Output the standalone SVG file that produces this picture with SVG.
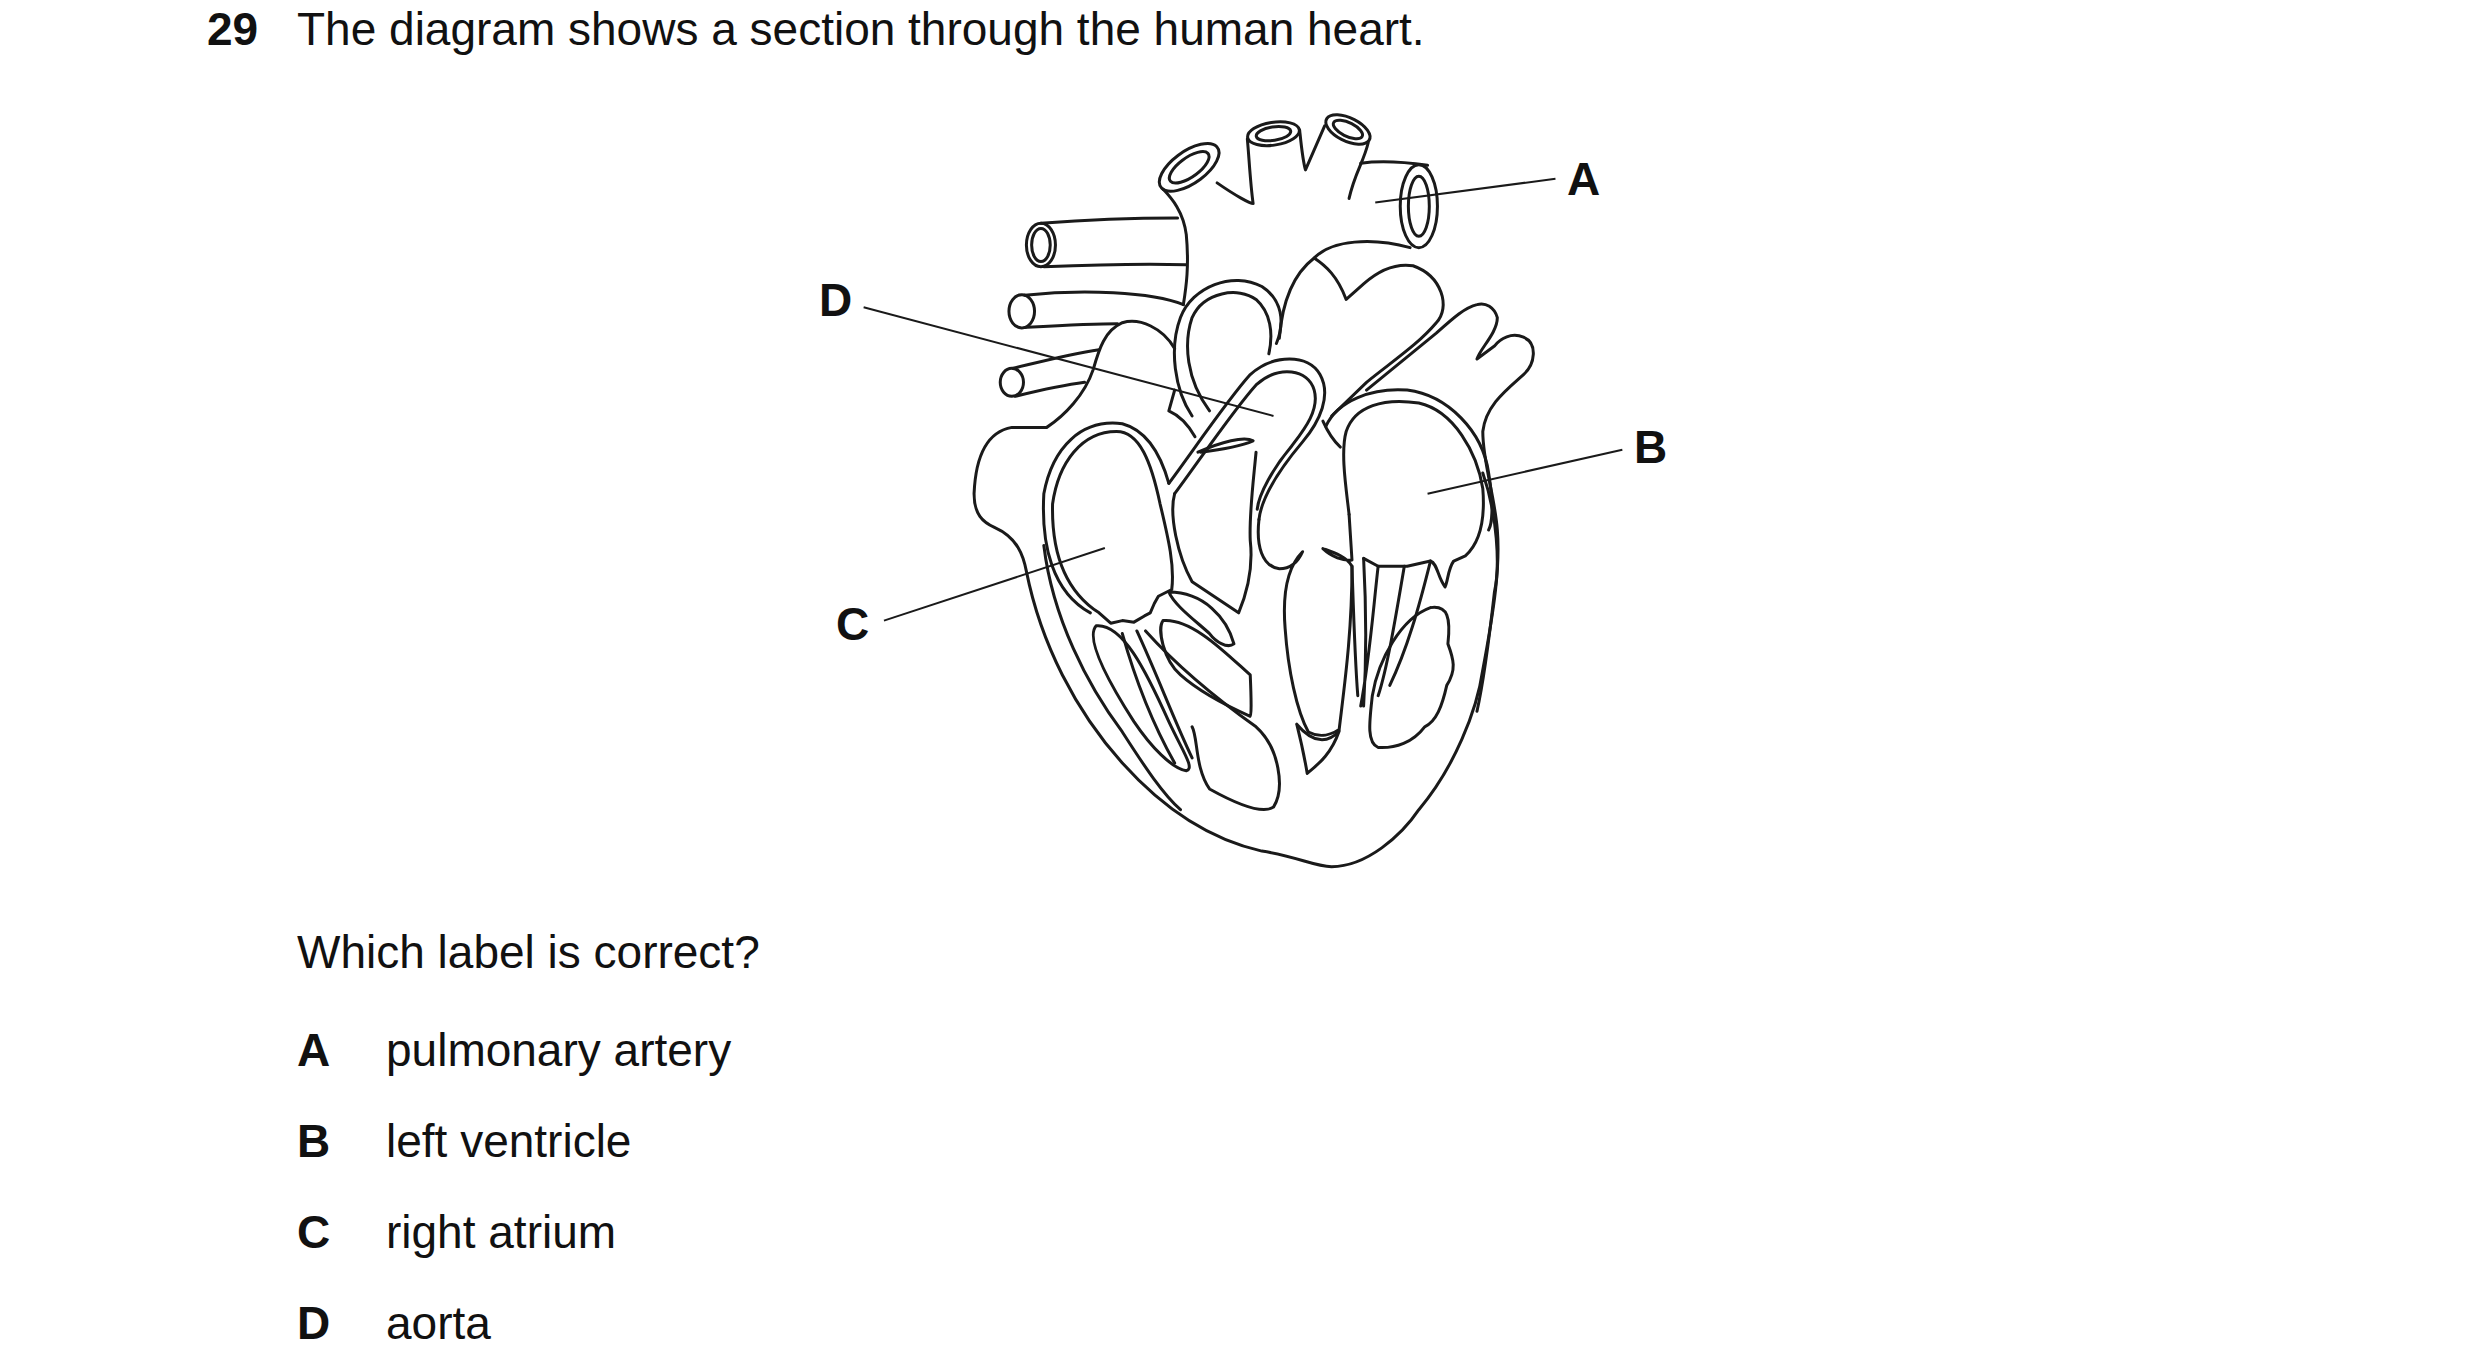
<svg xmlns="http://www.w3.org/2000/svg" width="2480" height="1367" viewBox="0 0 2480 1367">
<style>
.t{font-family:"Liberation Sans",Arial,sans-serif;font-size:46px;fill:#111}
.b{font-weight:bold}
.lab{font-size:46px;font-weight:bold}
.h{fill:none;stroke:#1a1a1a;stroke-width:3;stroke-linecap:round;stroke-linejoin:round}
.h *{vector-effect:non-scaling-stroke}
.l{fill:none;stroke:#1a1a1a;stroke-width:2}
.l *{vector-effect:non-scaling-stroke}
</style>
<rect width="2480" height="1367" fill="#fff"/>
<text class="t b" x="207" y="45">29</text>
<text class="t" x="297" y="45">The diagram shows a section through the human heart.</text>
<g id="heart" transform="translate(820,100) scale(0.5814,0.518)">
<g class="h">
<path d="M610,480 C590,440 550,420 520,430 C490,445 480,480 470,520 C455,570 420,610 390,632 L330,632 C290,640 268,680 265,760 C265,800 280,815 300,825 C340,845 350,880 355,910 C380,1050 440,1180 520,1280 C600,1380 680,1430 760,1450 C820,1460 850,1480 880,1480 C940,1480 1000,1420 1030,1370 C1090,1290 1130,1180 1140,1100 C1160,980 1170,900 1165,830 C1160,760 1140,700 1140,640 C1145,590 1180,560 1210,530 C1230,510 1235,470 1210,458 C1190,448 1170,460 1160,475 L1130,500 C1135,480 1165,450 1165,420 C1160,400 1145,390 1130,395 C1110,400 1090,420 1060,450 L940,560"/>
<ellipse cx="380" cy="280" rx="25" ry="42"/><ellipse cx="380" cy="280" rx="16" ry="32"/>
<path d="M380,238 C450,232 540,228 615,228 M385,322 C470,318 560,316 630,318"/>
<ellipse cx="347" cy="408" rx="22" ry="32"/>
<path d="M352,377 C450,365 570,370 625,395 M352,439 C420,435 470,432 512,432"/>
<ellipse cx="330" cy="545" rx="20" ry="27"/>
<path d="M332,518 C380,505 430,490 480,482 M336,572 C380,560 420,550 455,545"/>
<ellipse cx="635" cy="130" rx="62" ry="30" transform="rotate(-40 635 130)"/>
<ellipse cx="635" cy="130" rx="42" ry="18" transform="rotate(-40 635 130)"/>
<path d="M590,172 C605,190 625,215 630,260 C635,320 630,360 625,395"/>
<path d="M683,160 C715,185 740,200 745,200 C740,160 738,110 735,75"/>
<ellipse cx="780" cy="65" rx="45" ry="22" transform="rotate(-10 780 65)"/>
<ellipse cx="780" cy="65" rx="30" ry="13" transform="rotate(-10 780 65)"/>
<path d="M825,58 C828,90 830,115 835,135 L868,50"/>
<ellipse cx="908" cy="57" rx="42" ry="22" transform="rotate(30 908 57)"/>
<ellipse cx="908" cy="57" rx="28" ry="13" transform="rotate(30 908 57)"/>
<path d="M943,82 C935,120 920,140 910,190"/>
<ellipse cx="1030" cy="205" rx="32" ry="80"/><ellipse cx="1030" cy="205" rx="18" ry="58"/>
<path d="M930,122 C975,115 1020,122 1045,126 M1015,285 C950,265 880,270 850,305 C815,335 795,390 790,460"/>
<path d="M850,305 C870,320 890,340 905,385 L935,355 C960,330 990,315 1020,320 C1070,340 1085,400 1060,430 C1030,470 990,500 940,545 L880,610"/>
<path d="M640,610 C610,560 600,480 620,420 C640,360 710,330 760,360 C795,385 800,430 785,470"/>
<path d="M670,600 C630,540 625,470 640,420 C660,370 720,360 750,385 C775,410 780,450 772,490"/>
<path d="M600,600 C605,580 610,560 610,560 M600,600 C620,610 635,630 645,650"/>
<path d="M600,740 C640,680 700,580 740,530 C780,490 840,490 860,530 C880,570 860,620 830,660 C800,700 760,760 755,810"/>
<path d="M610,760 C650,700 710,600 750,550 C790,510 840,520 850,560 C860,600 830,640 810,670 C780,710 755,760 752,790"/>
<path d="M650,680 C690,660 730,648 745,658 C720,670 690,675 655,680"/>
<path d="M865,620 C875,645 885,660 895,670"/>
<path d="M600,740 C590,700 570,640 520,625 C450,615 400,670 385,760 C380,860 400,950 465,990"/>
<path d="M605,945 C610,900 600,850 585,780 C570,700 550,640 510,640 C450,640 410,700 400,780 C398,880 425,950 480,990 L500,1010 L520,1005 L540,1008 L558,996 L568,990 L575,972 L582,958 L605,945"/>
<path d="M870,630 C890,580 950,555 1010,560 C1080,570 1140,640 1150,720 C1160,790 1155,820 1150,830"/>
<path d="M910,800 C905,750 895,680 905,640 C920,590 970,575 1030,585 C1090,600 1130,680 1140,750 C1145,820 1130,860 1110,880 L1090,890 C1080,905 1080,930 1075,940 C1062,920 1062,895 1050,890 L1010,900 L960,900 L935,885"/>
<path d="M610,760 C600,800 615,880 640,930 L720,990 C735,950 745,900 740,850 C738,800 745,740 750,680"/>
<path d="M755,810 C750,860 760,900 790,905 C815,905 825,885 830,872 C805,900 795,950 800,1020 C805,1100 820,1180 840,1220 C860,1232 880,1225 893,1215 C902,1130 915,1030 915,900 C905,880 880,872 865,866 C880,882 900,890 915,888 L910,800"/>
<path d="M820,1205 C830,1250 835,1280 838,1300 C860,1280 880,1260 893,1218 C875,1240 850,1245 820,1205"/>
<path d="M915,900 C918,1000 920,1080 925,1150 M935,885 C940,990 940,1080 935,1170 M960,900 C950,1000 945,1080 930,1170 M1005,900 C990,1000 975,1100 960,1150 M1050,890 C1030,980 1010,1060 980,1130"/>
<path d="M1050,980 C1080,975 1085,1000 1080,1050 C1090,1080 1095,1100 1078,1130 C1070,1170 1060,1200 1040,1210 C1020,1240 990,1252 960,1250 C940,1240 945,1200 950,1150 C960,1080 1000,1000 1050,980"/>
<path d="M600,950 C660,950 700,1000 712,1050 C700,1060 680,1045 670,1030 C640,1000 610,975 600,950"/>
<path d="M590,1005 C640,1000 700,1070 740,1110 C742,1160 742,1190 740,1190 C700,1170 650,1140 620,1110 C590,1080 580,1020 590,1005"/>
<path d="M475,1015 C520,1010 560,1100 600,1200 C625,1260 645,1290 630,1295 C605,1290 570,1250 540,1200 C500,1130 455,1040 475,1015"/>
<path d="M520,1030 C540,1110 570,1200 610,1280 M545,1025 C580,1110 610,1200 640,1270"/>
<path d="M560,1025 C620,1100 700,1170 750,1210 C790,1250 800,1330 780,1365 C760,1380 710,1355 670,1330 C645,1290 650,1230 640,1210"/>
<path d="M385,860 C400,1000 460,1130 520,1220 C560,1290 590,1340 620,1370"/>
<path d="M1140,720 C1165,800 1170,900 1160,950 C1150,1050 1140,1130 1130,1180"/>
</g>
<g class="l">
<path d="M955,198 L1265,152"/>
<path d="M1045,760 L1380,675"/>
<path d="M110,1005 L490,865"/>
<path d="M75,400 L780,610"/>
</g>
</g>
<text class="t lab" x="1567" y="195">A</text>
<text class="t lab" x="1634" y="463">B</text>
<text class="t lab" x="836" y="640">C</text>
<text class="t lab" x="819" y="316">D</text>
<text class="t" x="297" y="968">Which label is correct?</text>
<g class="t">
<text class="b" x="297" y="1066">A</text><text x="386" y="1066">pulmonary artery</text>
<text class="b" x="297" y="1157">B</text><text x="386" y="1157">left ventricle</text>
<text class="b" x="297" y="1248">C</text><text x="386" y="1248">right atrium</text>
<text class="b" x="297" y="1339">D</text><text x="386" y="1339">aorta</text>
</g>
</svg>
